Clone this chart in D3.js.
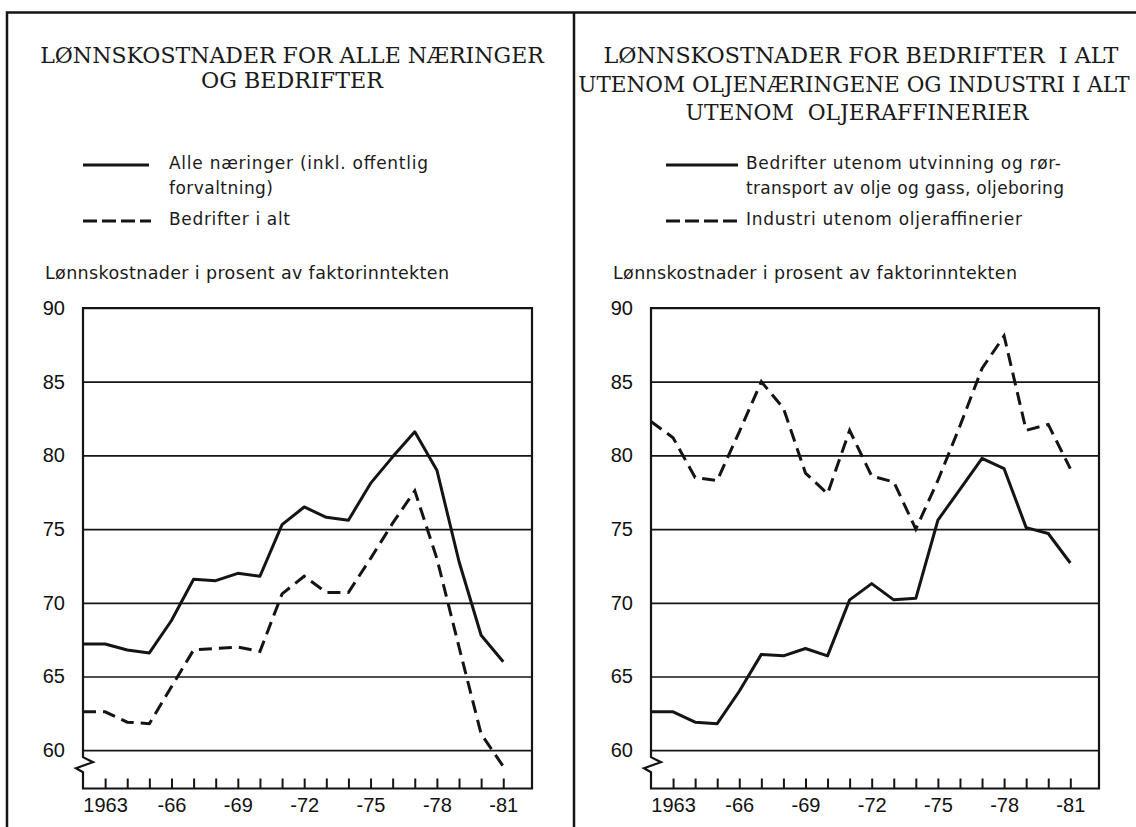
<!DOCTYPE html>
<html lang="no">
<head>
<meta charset="UTF-8">
<title>Lønnskostnader i prosent av faktorinntekten</title>
<script src="https://cdn.jsdelivr.net/npm/d3@7"></script>
<style>
  body { margin: 0; background: #fff; }
  svg { display: block; }
  .title { font-family: "DejaVu Serif", serif; font-size: 23px; fill: #1a1a1a; white-space: pre; }
  .legend { font-family: "DejaVu Sans", sans-serif; font-size: 17px; fill: #1a1a1a; }
  .ylab { font-family: "DejaVu Sans", sans-serif; font-size: 17.5px; fill: #1a1a1a; }
  .tick text { font-family: "Liberation Sans", Arial, sans-serif; font-size: 20px; fill: #111; }
</style>
</head>
<body>
<svg id="chart" width="1136" height="827"></svg>
<script>
// years on the x axis
var years = [1962, 1963, 1964, 1965, 1966, 1967, 1968, 1969, 1970, 1971,
             1972, 1973, 1974, 1975, 1976, 1977, 1978, 1979, 1980, 1981];
var yearLabels = {1963: "1963", 1966: "-66", 1969: "-69", 1972: "-72", 1975: "-75", 1978: "-78", 1981: "-81"};
var yTicks = [60, 65, 70, 75, 80, 85, 90];

// left panel: alle næringer / bedrifter i alt
var alleNaeringer = [67.2, 67.2, 66.8, 66.6, 68.8, 71.6, 71.5, 72.0, 71.8, 75.3,
                     76.5, 75.8, 75.6, 78.1, 79.9, 81.6, 79.0, 72.8, 67.8, 66.0];
var bedrifterIAlt = [62.6, 62.6, 61.9, 61.8, 64.3, 66.8, 66.9, 67.0, 66.7, 70.6,
                     71.8, 70.7, 70.7, 73.0, 75.4, 77.6, 73.0, 67.0, 61.1, 58.9];

// right panel: bedrifter utenom olje / industri utenom oljeraffinerier
var bedrifterUtenomOlje = [62.6, 62.6, 61.9, 61.8, 64.0, 66.5, 66.4, 66.9, 66.4, 70.2,
                           71.3, 70.2, 70.3, 75.6, 77.7, 79.8, 79.1, 75.1, 74.7, 72.7];
var industriUtenomRaff = [82.3, 81.2, 78.5, 78.3, 81.6, 85.0, 83.2, 78.8, 77.4, 81.7,
                          78.6, 78.2, 75.0, 78.3, 82.0, 85.9, 88.1, 81.7, 82.1, 79.1];

var leftTitle = ["LØNNSKOSTNADER FOR ALLE NÆRINGER", "OG BEDRIFTER"];
var rightTitle = ["LØNNSKOSTNADER FOR BEDRIFTER  I ALT",
                  "UTENOM OLJENÆRINGENE OG INDUSTRI I ALT",
                  "UTENOM  OLJERAFFINERIER"];
var leftLegend = [["Alle næringer (inkl. offentlig", "forvaltning)"], ["Bedrifter i alt"]];
var rightLegend = [["Bedrifter utenom utvinning og rør-", "transport av olje og gass, oljeboring"],
                   ["Industri utenom oljeraffinerier"]];
var yLabel = "Lønnskostnader i prosent av faktorinntekten";

var svg = d3.select("#chart");
var ink = "#141414";

// outer frame + divider
svg.append("path")
    .attr("d", "M7,827 V12.5 H1136 M574,12.5 V827")
    .attr("fill", "none").attr("stroke", ink).attr("stroke-width", 2.5);

var y = d3.scaleLinear().domain([57.4, 90]).range([788.5, 308]);

function drawPanel(p) {
    var x = d3.scaleLinear().domain([1962, 1982.3]).range([p.x0, p.x1]);
    var g = svg.append("g");

    // titles: shrink the font when the natural width is wider than the target,
    // otherwise stretch with textLength
    g.selectAll(".title").data(p.title).enter().append("text")
        .attr("class", "title")
        .attr("x", function(d, i) { return p.titleX[i]; })
        .attr("y", function(d, i) { return p.titleY[i]; })
        .attr("text-anchor", "middle")
        .text(function(d) { return d; })
        .each(function(d, i) {
            var w = this.getComputedTextLength();
            if (w > p.titleW[i]) {
                d3.select(this).style("font-size", (23 * p.titleW[i] / w) + "px");
            } else {
                d3.select(this).attr("textLength", p.titleW[i]).attr("lengthAdjust", "spacingAndGlyphs");
            }
        });

    // legend
    p.legend.forEach(function(rows, k) {
        g.append("line")
            .attr("x1", p.legX[0]).attr("x2", p.legX[1] + (k ? 2 : 0))
            .attr("y1", p.legY[k]).attr("y2", p.legY[k])
            .attr("stroke", ink).attr("stroke-width", 3)
            .attr("stroke-dasharray", k ? "14,5" : null);
        rows.forEach(function(r, j) {
            g.append("text").attr("class", "legend")
                .attr("x", p.legTextX)
                .attr("y", p.legY[k] + 4 + j * 24.5)
                .attr("textLength", p.legW[k][j])
                .text(r);
        });
    });

    g.append("text").attr("class", "ylab")
        .attr("x", p.ylabX).attr("y", 279)
        .attr("textLength", 404)
        .text(yLabel);

    // y axis with gridlines
    var ya = g.append("g").attr("transform", "translate(" + p.x0 + ",0)")
        .call(d3.axisLeft(y).tickValues(yTicks).tickSize(-(p.x1 - p.x0)).tickPadding(18).tickFormat(d3.format("d")));
    ya.select(".domain").remove();
    ya.selectAll(".tick line").attr("stroke", ink).attr("stroke-width", 1.7);

    // x axis ticks pointing inward
    var xa = g.append("g").attr("transform", "translate(0," + y(57.4) + ")")
        .call(d3.axisBottom(x).tickValues(years.slice(1)).tickSize(-10).tickPadding(9)
            .tickFormat(function(d) { return yearLabels[d] || ""; }));
    xa.select(".domain").remove();
    xa.selectAll(".tick line").attr("stroke", ink).attr("stroke-width", 2);

    // plot frame with axis break on the left side
    var b = y(60), bot = y(57.4), top = y(90);
    g.append("path")
        .attr("d", "M" + p.x0 + "," + top + " H" + p.x1 + " V" + bot + " H" + p.x0 +
            " V" + (b + 22) + " L" + (p.x0 - 7) + "," + (b + 18) + " L" + (p.x0 + 10) + "," + (b + 12) +
            " L" + p.x0 + "," + (b + 7) + " Z")
        .attr("fill", "none").attr("stroke", ink).attr("stroke-width", 2.2).attr("stroke-linejoin", "miter");

    var line = d3.line()
        .x(function(d, i) { return x(years[i]); })
        .y(function(d) { return y(d); });

    g.append("path").datum(p.solid)
        .attr("d", line).attr("fill", "none")
        .attr("stroke", ink).attr("stroke-width", 3).attr("stroke-linejoin", "round");
    g.append("path").datum(p.dashed)
        .attr("d", line).attr("fill", "none")
        .attr("stroke", ink).attr("stroke-width", 3).attr("stroke-dasharray", "13,7");
}

drawPanel({
    x0: 83, x1: 532,
    title: leftTitle, titleX: [292, 292], titleY: [63, 88], titleW: [504, 182],
    legend: leftLegend, legX: [83, 149], legY: [165, 221], legTextX: 169,
    legW: [[259, 104], [121]],
    ylabX: 45,
    solid: alleNaeringer, dashed: bedrifterIAlt
});

drawPanel({
    x0: 651, x1: 1099,
    title: rightTitle, titleX: [861, 854, 857], titleY: [63, 92, 120], titleW: [515, 552, 343],
    legend: rightLegend, legX: [666, 738], legY: [165, 221], legTextX: 746,
    legW: [[315, 318], [276]],
    ylabX: 613,
    solid: bedrifterUtenomOlje, dashed: industriUtenomRaff
});
</script>
</body>
</html>
